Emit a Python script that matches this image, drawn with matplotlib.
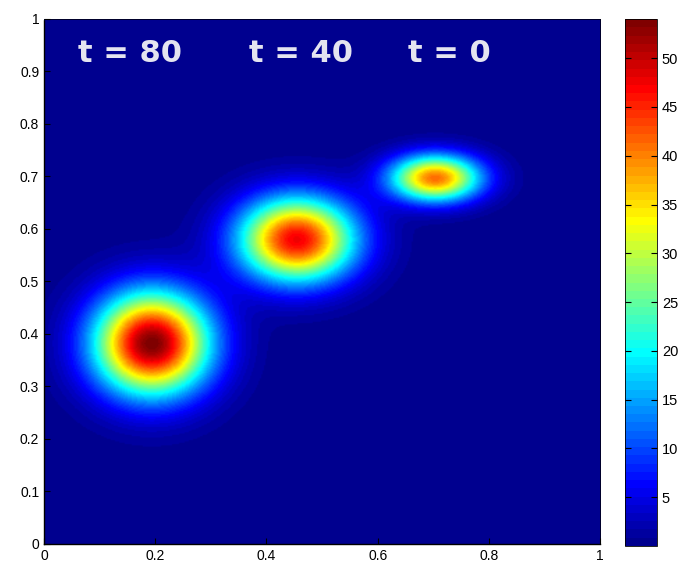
import numpy as np
import matplotlib
matplotlib.use("Agg")
import matplotlib.pyplot as plt
from matplotlib.colors import ListedColormap

# blob parameters (x, y centre, peak, sigma x, sigma y)
blob_x = [0.193, 0.454, 0.703]
blob_y = [0.381, 0.579, 0.696]
blob_peak = [54.0, 47.5, 41.0]
blob_sx = [0.072, 0.073, 0.057]
blob_sy = [0.068, 0.056, 0.031]

labels = ["t = 80", "t = 40", "t = 0"]
label_x = [0.155, 0.463, 0.729]
label_y = 0.935

xticks = [0, 0.2, 0.4, 0.6, 0.8, 1]
yticks = [0, 0.1, 0.2, 0.3, 0.4, 0.5, 0.6, 0.7, 0.8, 0.9, 1]
cticks = [5, 10, 15, 20, 25, 30, 35, 40, 45, 50]
cmin, cmax = 0.0, 54.0


def matlab_jet(m=64):
    # same construction as MATLAB's jet(m)
    n = int(np.ceil(m / 4))
    u = np.concatenate([np.arange(1, n + 1) / n, np.ones(n - 1), np.arange(n, 0, -1) / n])
    g = int(np.ceil(n / 2)) - (1 if m % 4 == 1 else 0) + np.arange(1, len(u) + 1)
    r = g + n
    b = g - n
    J = np.zeros((m, 3))
    ok = (r >= 1) & (r <= m)
    J[r[ok] - 1, 0] = u[ok]
    ok = (g >= 1) & (g <= m)
    J[g[ok] - 1, 1] = u[ok]
    ok = (b >= 1) & (b <= m)
    J[b[ok] - 1, 2] = u[ok]
    return ListedColormap(J)


plt.rcParams['font.family'] = ['Liberation Sans', 'DejaVu Sans']

n = 400
gx, gy = np.meshgrid(np.linspace(0, 1, n), np.linspace(0, 1, n))
field = np.zeros_like(gx)
for cx, cy, p, sx, sy in zip(blob_x, blob_y, blob_peak, blob_sx, blob_sy):
    field += p * np.exp(-((gx - cx) ** 2 / (2 * sx ** 2) + (gy - cy) ** 2 / (2 * sy ** 2)))

fig = plt.figure(figsize=(6.79, 5.64), dpi=100)
ax = fig.add_axes([0.0648, 0.0355, 0.819, 0.931])
cax = fig.add_axes([0.9205, 0.032, 0.0471, 0.934])

im = ax.imshow(field, origin='lower', extent=[0, 1, 0, 1], aspect='auto',
               cmap=matlab_jet(64), vmin=cmin, vmax=cmax,
               interpolation='bilinear')

for txt, lx in zip(labels, label_x):
    ax.text(lx, label_y, txt, color='#e4e4f0', fontsize=22, fontweight='bold',
            family='DejaVu Sans', ha='center', va='center')

ax.set_xlim(0, 1)
ax.set_ylim(0, 1)
ax.set_xticks(xticks)
ax.set_xticklabels([f"{v:g}" for v in xticks])
ax.set_yticks(yticks)
ax.set_yticklabels([f"{v:g}" for v in yticks])
ax.tick_params(direction='in', length=4, labelsize=10, top=False, right=False)
for s in ['left', 'bottom']:
    ax.spines[s].set_linestyle((0, (1, 1)))
    ax.spines[s].set_linewidth(1.0)
for s in ['top', 'right']:
    ax.spines[s].set_linewidth(0.5)

cb = fig.colorbar(im, cax=cax, ticks=cticks)
cb.ax.tick_params(direction='in', length=4, labelsize=10.5, left=True, right=True)
cb.outline.set_linewidth(0.6)

fig.savefig("out.png", dpi=100)
